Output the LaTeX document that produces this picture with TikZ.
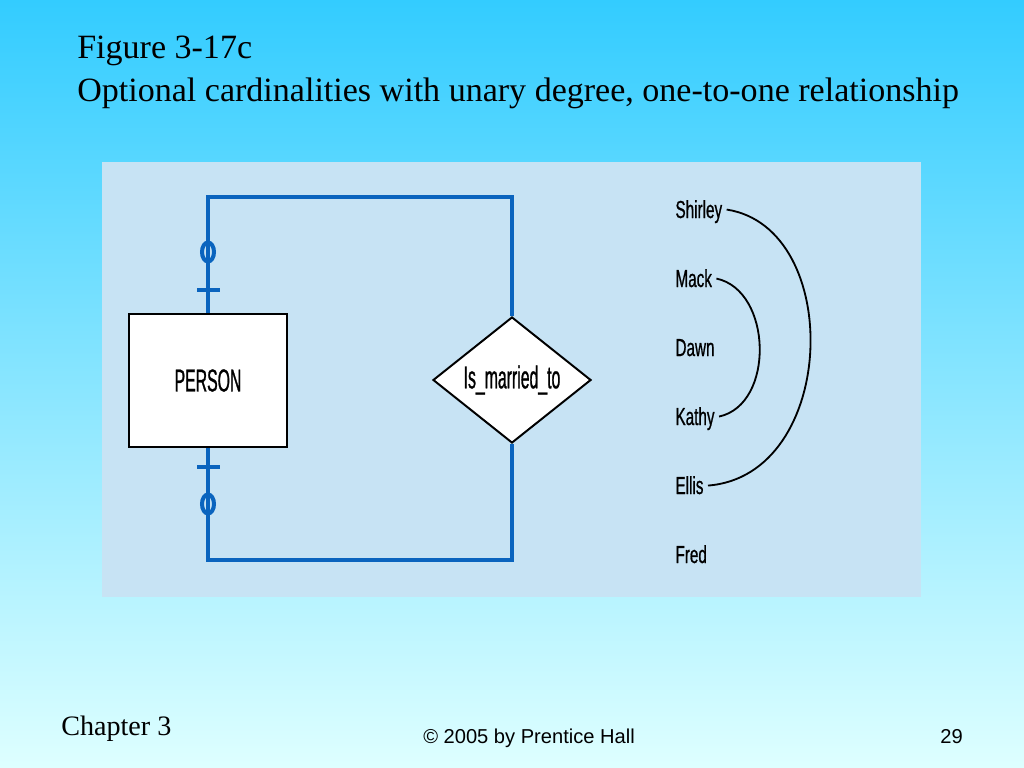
\documentclass[tikz,border=0pt]{standalone}
\usepackage{fontspec}
\setmainfont{Liberation Serif}
\newfontfamily\erfont[FakeStretch=0.5,FakeBold=0.8]{Liberation Sans}
\newfontfamily\namefont[FakeStretch=0.62,FakeBold=0.7]{Liberation Sans}
\newfontfamily\footfont{Liberation Sans}
\usetikzlibrary{shapes.geometric}
\definecolor{slidetop}{RGB}{51,204,255}
\definecolor{slidebottom}{RGB}{222,255,255}
\definecolor{panelblue}{RGB}{199,227,244}
\definecolor{erblue}{RGB}{10,100,190}

\begin{document}
\begin{tikzpicture}[x=0.025cm,y=-0.025cm,
        erline/.style={draw=erblue,line width=2.85pt},
        pairarc/.style={draw=black,line width=1.3pt},
        entity/.style={draw=black,line width=1.4pt,fill=white,minimum width=3.925cm,minimum height=3.325cm,inner sep=0pt,font=\erfont\fontsize{22.5}{27}\selectfont},
        relship/.style={diamond,draw=black,line width=1.4pt,fill=white,minimum width=3.95cm,minimum height=3.15cm,inner sep=0pt,font=\erfont\fontsize{22.5}{27}\selectfont},
        person name/.style={anchor=base west,inner ysep=0pt,inner xsep=3pt,text height=12pt,text depth=0pt,font=\namefont\fontsize{17.5}{21}\selectfont},
        titletext/.style={anchor=base west,inner sep=0pt,font=\fontsize{24.2}{29}\selectfont}]
        \shade[top color=slidetop,bottom color=slidebottom] (0,0) rectangle (1024,768);
        \useasboundingbox (0,0) rectangle (1024,768);
        \fill[panelblue] (102,162) rectangle (921,597);

        \node[titletext] (title1) at (77,59) {Figure 3-17c};
        \node[titletext] (title2) at (77,102) {Optional cardinalities with unary degree, one-to-one relationship};

        \node[entity] (person) at (208,380.5) {PERSON};
        \node[relship] (rel) at (512,380) {Is\_married\_to};
        \draw[erline] (person.north) -- ++(0,-116) -| (rel.north);
        \draw[erline] (person.south) -- ++(0,112) -| (rel.south);
        \draw[erline] (197,290) -- (220,290);
        \draw[erline] (208,252) ellipse [x radius=6, y radius=9.5];
        \draw[erline] (197,467) -- (220,467);
        \draw[erline] (208,504) ellipse [x radius=6, y radius=9.5];

        \node[person name] (shirley) at (671,218) {Shirley};
        \node[person name] (mack) at (671,287) {Mack};
        \node[person name] (dawn) at (671,356) {Dawn};
        \node[person name] (kathy) at (671,425) {Kathy};
        \node[person name] (ellis) at (671,494) {Ellis};
        \node[person name] (fred) at (671,563) {Fred};
        \draw[pairarc] (shirley.east) .. controls +(118,18) and +(130,-10) .. (ellis.east);
        \draw[pairarc] (mack.east) .. controls +(56,12) and +(56,-12) .. (kathy.east);

        \node[anchor=base west,inner sep=0pt,font=\fontsize{20}{24}\selectfont] (chapter) at (61,735) {Chapter 3};
        \node[anchor=base west,inner sep=0pt,font=\footfont\fontsize{14.3}{17}\selectfont] (copyright) at (423,743) {© 2005 by Prentice Hall};
        \node[anchor=base east,inner sep=0pt,font=\footfont\fontsize{14.3}{17}\selectfont] (pageno) at (963,743) {29};
    \end{tikzpicture}
\end{document}
